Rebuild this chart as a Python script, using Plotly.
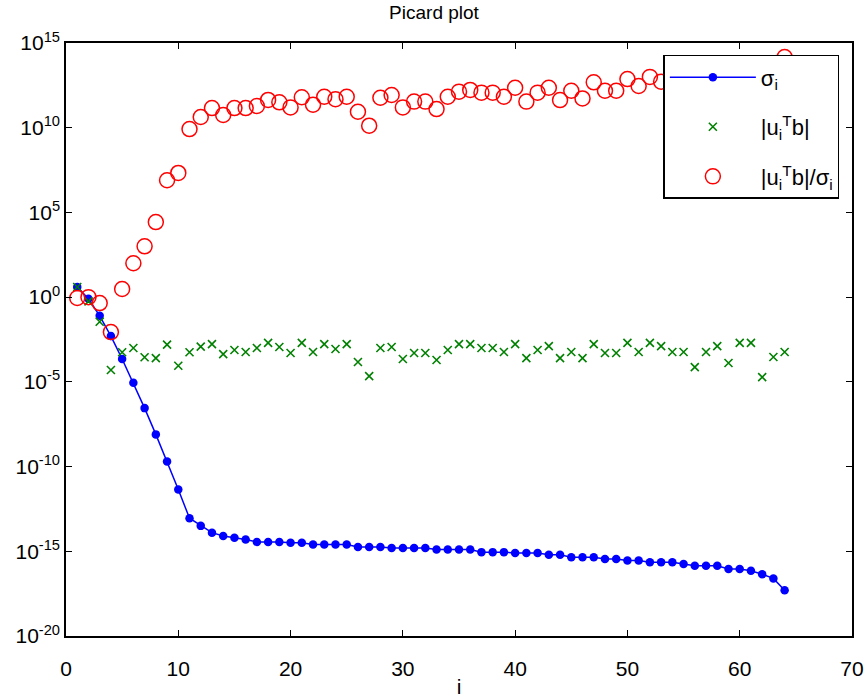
import numpy as np
import plotly.graph_objects as go

# index i
idx = list(range(1, 65))

# log10 of singular values sigma_i
sigma_log10 = [0.6, -0.1, -1.1, -2.3, -3.65, -5.05, -6.55, -8.1, -9.7, -11.35,
               -13.05, -13.5, -13.9, -14.1, -14.2, -14.3, -14.45, -14.45, -14.45, -14.5,
               -14.5, -14.6, -14.6, -14.6, -14.6, -14.75, -14.75, -14.75, -14.8, -14.8,
               -14.8, -14.8, -14.9, -14.9, -14.9, -14.9, -15.05, -15.05, -15.05, -15.1,
               -15.1, -15.1, -15.2, -15.2, -15.35, -15.35, -15.35, -15.45, -15.45, -15.55,
               -15.55, -15.65, -15.65, -15.65, -15.75, -15.85, -15.85, -15.85, -16.05, -16.05,
               -16.15, -16.35, -16.6, -17.3]

# log10 of |u_i^T b|
utb_log10 = [0.6, -0.25, -1.45, -4.3, -3.25, -3.0, -3.55, -3.6, -2.8, -4.05,
             -3.25, -2.92, -2.77, -3.36, -3.12, -3.24, -3.0, -2.7, -2.94, -3.3,
             -2.7, -3.24, -2.77, -3.06, -2.77, -3.83, -4.66, -3.0, -2.94, -3.65,
             -3.3, -3.3, -3.71, -3.12, -2.77, -2.77, -3.0, -3.0, -3.24, -2.77,
             -3.6, -3.12, -2.89, -3.6, -3.24, -3.6, -2.77, -3.3, -3.3, -2.7,
             -3.24, -2.7, -2.89, -3.24, -3.24, -4.13, -3.24, -2.89, -3.89, -2.7,
             -2.7, -4.72, -3.53, -3.24]

# log10 of |u_i^T b| / sigma_i
ratio_log10 = [-0.05, 0.0, -0.35, -2.06, 0.48, 2.0, 3.0, 4.43, 6.9, 7.33,
               9.92, 10.63, 11.16, 10.75, 11.16, 11.16, 11.28, 11.64, 11.5, 11.2,
               11.8, 11.36, 11.83, 11.68, 11.83, 10.94, 10.12, 11.77, 11.93, 11.2,
               11.54, 11.54, 11.1, 11.83, 12.13, 12.23, 12.07, 12.07, 11.83, 12.36,
               11.54, 12.07, 12.36, 11.63, 12.18, 11.73, 12.68, 12.18, 12.18, 12.87,
               12.46, 13.0, 12.72, 12.41, 12.51, 11.72, 12.61, 12.96, 12.16, 13.35,
               13.45, 11.63, 13.07, 14.17]

ytick_exps = [-20, -15, -10, -5, 0, 5, 10, 15]
ytick_labels = ["10<sup>%d</sup>" % e for e in ytick_exps]
xtick_vals = [0, 10, 20, 30, 40, 50, 60, 70]

sigma = 10.0 ** np.array(sigma_log10)
utb = 10.0 ** np.array(utb_log10)
ratio = 10.0 ** np.array(ratio_log10)

FONT = "Liberation Sans, Arial, sans-serif"

fig = go.Figure()
fig.add_trace(go.Scatter(
    x=idx, y=sigma, mode="lines+markers", name="σ<sub>i</sub>", legendgroup="a",
    line=dict(color="#0000ff", width=1.5),
    marker=dict(color="#0000ff", size=8.5, symbol="circle"),
))
fig.add_trace(go.Scatter(
    x=idx, y=utb, mode="markers", name="|u<sub>i</sub><sup>T</sup>b|", legendgroup="b",
    marker=dict(color="#008000", size=8, symbol="x-thin-open",
                line=dict(color="#008000", width=1.6)),
))
fig.add_trace(go.Scatter(
    x=idx, y=ratio, mode="markers", name="|u<sub>i</sub><sup>T</sup>b|/σ<sub>i</sub>",
    legendgroup="c",
    marker=dict(color="#ff0000", size=15, symbol="circle-open",
                line=dict(color="#ff0000", width=1.5)),
))

axis_common = dict(
    showline=True, linecolor="black", linewidth=1.5, mirror="ticks",
    ticks="inside", ticklen=6, tickwidth=1.2, tickcolor="black",
    showgrid=False, zeroline=False, automargin=False,
    tickfont=dict(family=FONT, size=21, color="black"),
)

fig.update_layout(
    width=868, height=698,
    margin=dict(l=66, r=16, t=43, b=62),
    paper_bgcolor="white", plot_bgcolor="white",
    title=dict(text="Picard plot", x=0.5, xanchor="center", y=0.983, yanchor="middle",
               font=dict(family=FONT, size=19, color="black")),
    xaxis=dict(range=[0, 70], tickvals=xtick_vals, ticklabelstandoff=13,
               title=dict(text="i", font=dict(family=FONT, size=21, color="black"), standoff=7),
               **axis_common),
    yaxis=dict(type="log", range=[-20, 15], tickvals=[10.0 ** e for e in ytick_exps],
               ticktext=ytick_labels, ticklabelshift=0, **axis_common),
    legend=dict(x=0.76, y=0.98, xanchor="left", yanchor="top",
                bgcolor="white", bordercolor="black", borderwidth=1.5,
                font=dict(family=FONT, size=22, color="black"),
                itemwidth=86, tracegroupgap=18),
    showlegend=True,
)

fig.write_html("out.html")
